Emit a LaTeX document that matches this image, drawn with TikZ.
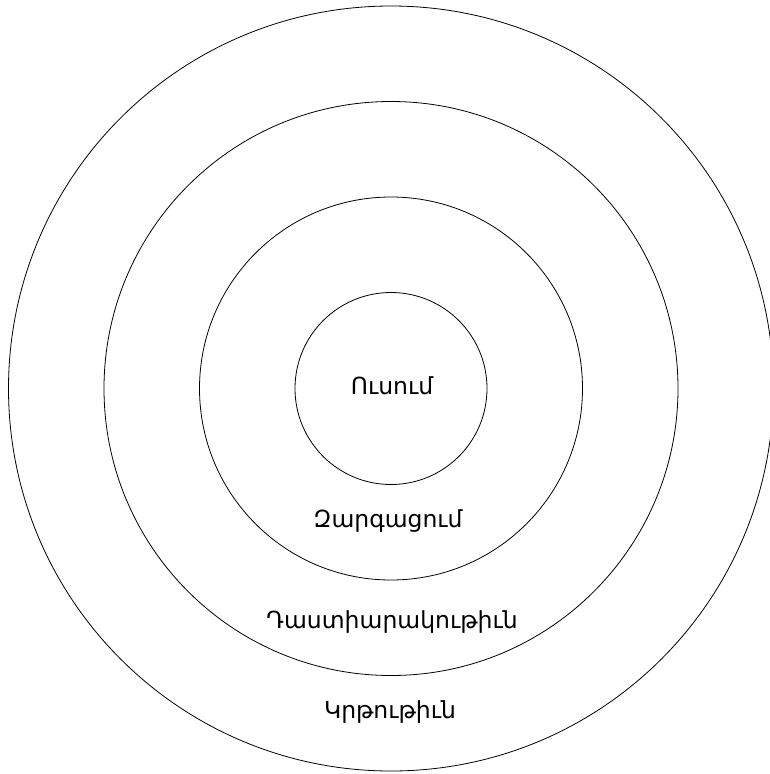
\documentclass[tikz,border=0pt]{standalone}
\usepackage{fontspec}
\setmainfont{DejaVu Sans}
\begin{document}
\begin{tikzpicture}[x=1pt,y=-1pt,
  ring/.style={draw=black,line width=0.8pt,circle,inner sep=0pt},
  lbl/.style={font=\fontsize{23.5}{26}\selectfont,inner sep=0pt,anchor=base}]
\useasboundingbox (0,0) rectangle (770,774);
\coordinate (c) at (391,388.5);
\node[ring,minimum size=765pt] (r4) at (c) {};
\node[ring,minimum size=574pt] (r3) at (c) {};
\node[ring,minimum size=383pt] (r2) at (c) {};
\node[ring,minimum size=192pt] (r1) at (c) {};
\node[lbl] (t1) at (392,394) {Ուսում};
\node[lbl] (t2) at (388,527) {Զարգացում};
\node[lbl] (t3) at (392,628) {Դաստիարակութիւն};
\node[lbl] (t4) at (390,718) {Կրթութիւն};
\end{tikzpicture}
\end{document}
